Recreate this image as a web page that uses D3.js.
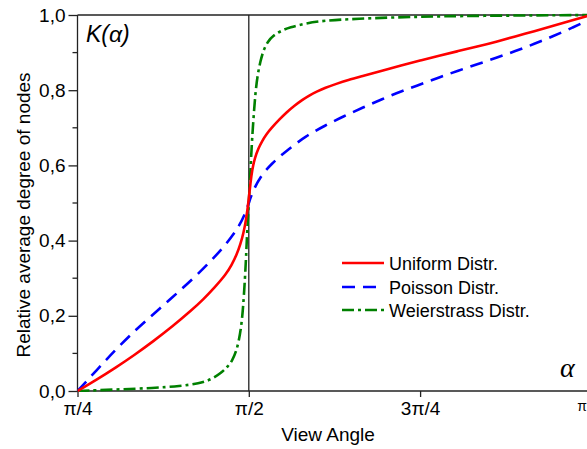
<!DOCTYPE html>
<html>
<head>
<meta charset="utf-8">
<style>
  body { margin: 0; background: #fff; }
  svg { display: block; }
  text { font-family: "Liberation Sans", Arial, sans-serif; fill: #000; }
</style>
</head>
<body>
<div id="chart"></div>
<script src="https://cdn.jsdelivr.net/npm/d3@7/dist/d3.min.js"></script>
<script>

// view angle in degrees (pi/4 = 45 ... pi = 180)
var uniformAlpha = [45, 50, 55, 60, 65, 70, 75, 78, 81, 84, 85.5, 86.8, 87.8, 88.6, 89.3, 90, 90.4, 90.9, 91.6, 92.5, 93.5, 94.7, 96, 98, 100, 102, 104, 106, 108, 110, 113, 116, 120, 125, 130, 135, 140, 145, 150, 155, 160, 165, 170, 175, 180];
var uniformK     = [0, 0.03, 0.062, 0.096, 0.133, 0.172, 0.215, 0.243, 0.275, 0.31, 0.335, 0.362, 0.39, 0.42, 0.455, 0.51, 0.55, 0.59, 0.62, 0.645, 0.665, 0.684, 0.70, 0.722, 0.742, 0.759, 0.774, 0.787, 0.797, 0.806, 0.817, 0.827, 0.838, 0.852, 0.866, 0.879, 0.892, 0.904, 0.916, 0.929, 0.943, 0.957, 0.971, 0.986, 1.0];

var poissonAlpha = [45, 50, 55, 60, 65, 70, 75, 80, 84, 87, 89, 90, 91, 93, 96, 100, 105, 110, 115, 120, 125, 130, 135, 140, 145, 150, 155, 160, 165, 170, 175, 180];
var poissonK     = [0, 0.055, 0.11, 0.16, 0.205, 0.25, 0.295, 0.345, 0.39, 0.43, 0.47, 0.5, 0.53, 0.57, 0.605, 0.64, 0.678, 0.706, 0.731, 0.754, 0.776, 0.797, 0.815, 0.834, 0.852, 0.869, 0.886, 0.904, 0.923, 0.944, 0.966, 0.99];

var weierAlpha = [45, 55, 65, 72, 77, 80, 82.6, 84.5, 85.6, 86.7, 87.4, 88, 88.5, 89, 89.3, 89.6, 90, 90.4, 90.8, 91.2, 91.7, 92.3, 93, 93.8, 95, 96.4, 98.5, 100.7, 105, 109.5, 118.3, 131.5, 150, 180];
var weierK     = [0, 0.004, 0.008, 0.013, 0.02, 0.03, 0.047, 0.065, 0.08, 0.105, 0.135, 0.17, 0.22, 0.3, 0.36, 0.43, 0.5, 0.58, 0.66, 0.72, 0.79, 0.84, 0.875, 0.905, 0.93, 0.945, 0.958, 0.967, 0.978, 0.985, 0.99, 0.995, 0.998, 1.0];

var xTicks = [45, 90, 135, 180];
var xTickLabels = ["π/4", "π/2", "3π/4", "π"];
var yTicks = [0, 0.2, 0.4, 0.6, 0.8, 1.0];
var yMinorTicks = [0.1, 0.3, 0.5, 0.7, 0.9];

var seriesNames = ["Uniform Distr.", "Poisson Distr.", "Weierstrass Distr."];

var W = 587, H = 449;
// plot frame (pixels)
var pLeft = 77.5, pTop = 15, pBottom = 391, pRight = 587;

var x = d3.scaleLinear().domain([45, 180]).range([pLeft, pLeft + 3 * 171.3]);
var y = d3.scaleLinear().domain([0, 1]).range([pBottom, pTop]);

var svg = d3.select("#chart").append("svg")
    .attr("width", W)
    .attr("height", H);

svg.append("defs").append("clipPath")
    .attr("id", "plotclip")
  .append("rect")
    .attr("x", pLeft)
    .attr("y", pTop - 3)
    .attr("width", pRight - pLeft)
    .attr("height", pBottom - pTop + 4);

// frame lines
var axisColor = "#222";
svg.append("line")
    .attr("x1", pLeft).attr("x2", pRight).attr("y1", pTop).attr("y2", pTop)
    .attr("stroke", axisColor).attr("stroke-width", 1.3);
svg.append("line")
    .attr("x1", x(90)).attr("x2", x(90)).attr("y1", pTop).attr("y2", pBottom)
    .attr("stroke", axisColor).attr("stroke-width", 1.3);

// y axis
var yAxis = d3.axisLeft(y)
    .tickValues(yTicks)
    .tickSize(9)
    .tickPadding(3)
    .tickFormat(function(d) { return d3.format(".1f")(d).replace(".", ","); });
var gy = svg.append("g")
    .attr("transform", "translate(" + pLeft + ",0)")
    .call(yAxis);
gy.select(".domain").remove();
gy.append("line").attr("x1", 0).attr("x2", 0).attr("y1", pTop).attr("y2", pBottom)
    .attr("stroke", axisColor).attr("stroke-width", 1.3);
gy.selectAll(".tick line").attr("stroke", axisColor).attr("stroke-width", 1.3);
gy.selectAll(".tick text").style("font-size", "19px")
    .style("font-family", "'Liberation Sans', Arial, sans-serif").attr("fill", "#000");
gy.selectAll(".minor").data(yMinorTicks).enter().append("line")
    .attr("x1", -5).attr("x2", 0)
    .attr("y1", function(d) { return y(d); })
    .attr("y2", function(d) { return y(d); })
    .attr("stroke", axisColor).attr("stroke-width", 1.3);

// x axis
var xAxis = d3.axisBottom(x)
    .tickValues(xTicks.slice(0, 3))
    .tickSize(6)
    .tickPadding(5)
    .tickFormat(function(d, i) { return xTickLabels[i]; });
var gx = svg.append("g")
    .attr("transform", "translate(0," + pBottom + ")")
    .call(xAxis);
gx.select(".domain").remove();
gx.append("line").attr("x1", pLeft).attr("x2", pRight).attr("y1", 0).attr("y2", 0)
    .attr("stroke", axisColor).attr("stroke-width", 1.3);
gx.selectAll(".tick line").attr("stroke", axisColor).attr("stroke-width", 1.3);
gx.selectAll(".tick text").style("font-size", "19px")
    .style("font-family", "'Liberation Sans', Arial, sans-serif").attr("fill", "#000");

// the pi label at the right edge is cut by the frame, drawn small
svg.append("text")
    .attr("x", 587).attr("y", 411)
    .attr("text-anchor", "end")
    .style("font-size", "14px")
    .text(xTickLabels[3]);

// curves
var plot = svg.append("g").attr("clip-path", "url(#plotclip)");

var line = d3.line()
    .x(function(d) { return x(d[0]); })
    .y(function(d) { return y(d[1]); })
    .curve(d3.curveBasis);

var series = [
    { name: seriesNames[0], pts: d3.zip(uniformAlpha, uniformK), color: "#ff0000", dash: null },
    { name: seriesNames[1], pts: d3.zip(poissonAlpha, poissonK), color: "#0000ff", dash: "13,8" },
    { name: seriesNames[2], pts: d3.zip(weierAlpha, weierK), color: "#008000", dash: "12,4,3,4" }
];

plot.selectAll("path.curve")
    .data(series.slice().reverse())
    .enter().append("path")
    .attr("class", "curve")
    .attr("d", function(d) { return line(d.pts); })
    .attr("fill", "none")
    .attr("stroke", function(d) { return d.color; })
    .attr("stroke-width", 2.6)
    .attr("stroke-dasharray", function(d) { return d.dash; });

// legend
var legend = svg.append("g");
var rowY = [263, 287, 310];
series.forEach(function(s, i) {
    legend.append("line")
        .attr("x1", 342).attr("x2", 384)
        .attr("y1", rowY[i]).attr("y2", rowY[i])
        .attr("stroke", s.color)
        .attr("stroke-width", 2.6)
        .attr("stroke-dasharray", s.dash);
    legend.append("text")
        .attr("x", 389).attr("y", rowY[i] + 6.5)
        .style("font-size", "18px")
        .text(s.name);
});

// annotations
svg.append("text")
    .attr("x", 86).attr("y", 42)
    .style("font-size", "23px")
    .style("font-style", "italic")
    .text("K(α)");

svg.append("text")
    .attr("x", 560).attr("y", 377)
    .style("font-family", "'Liberation Serif', 'Times New Roman', serif")
    .style("font-size", "28px")
    .style("font-style", "italic")
    .text("α");

// axis titles
svg.append("text")
    .attr("x", 328).attr("y", 441)
    .attr("text-anchor", "middle")
    .style("font-size", "19px")
    .text("View Angle");

svg.append("text")
    .attr("transform", "translate(30,215) rotate(-90)")
    .attr("text-anchor", "middle")
    .style("font-size", "19px")
    .text("Relative average degree of nodes");

</script>
</body>
</html>
